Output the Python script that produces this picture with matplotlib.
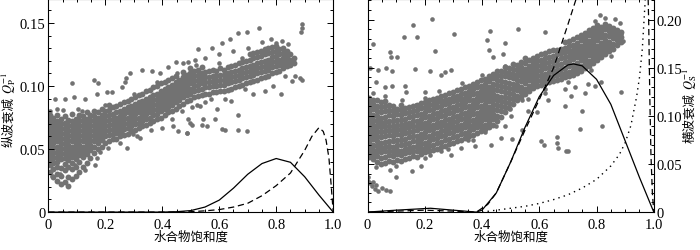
import matplotlib
matplotlib.use('Agg')
import matplotlib.pyplot as plt
from matplotlib.ticker import MultipleLocator
import numpy as np

plt.rcParams['font.family'] = ['Liberation Serif', 'Noto Sans CJK SC']
plt.rcParams['mathtext.fontset'] = 'stix'

# 纵波衰减 Qp^-1 : 密集带 (按列读取) + 离散点
qp_band_x = [0.005, 0.018, 0.031, 0.044, 0.057, 0.070, 0.083, 0.096, 0.109, 0.122,
             0.135, 0.148, 0.161, 0.174, 0.187, 0.200, 0.213, 0.226, 0.239, 0.252,
             0.265, 0.278, 0.291, 0.304, 0.317, 0.330, 0.343, 0.356, 0.369, 0.382,
             0.395, 0.408, 0.421, 0.434, 0.447, 0.460, 0.473, 0.486, 0.499, 0.512,
             0.525, 0.538, 0.551, 0.564, 0.577, 0.590, 0.603, 0.616, 0.629, 0.642,
             0.655, 0.668, 0.681, 0.694, 0.707, 0.720, 0.733, 0.746, 0.759, 0.772,
             0.785, 0.798, 0.811, 0.824, 0.837, 0.850, 0.863]
qp_band_y = [
    [0.032, 0.037, 0.041, 0.045, 0.049, 0.053, 0.057, 0.061, 0.065, 0.069, 0.073, 0.077],
    [0.028, 0.034, 0.039, 0.043, 0.047, 0.051, 0.055, 0.059, 0.063, 0.067, 0.071, 0.075],
    [0.025, 0.030, 0.036, 0.040, 0.044, 0.048, 0.052, 0.056, 0.060, 0.064, 0.068, 0.072, 0.077],
    [0.022, 0.029, 0.035, 0.042, 0.046, 0.050, 0.054, 0.058, 0.062, 0.066, 0.070, 0.074],
    [0.024, 0.033, 0.038, 0.043, 0.047, 0.051, 0.055, 0.059, 0.063, 0.067, 0.071, 0.076],
    [0.021, 0.028, 0.036, 0.041, 0.045, 0.049, 0.053, 0.057, 0.061, 0.065, 0.069, 0.073],
    [0.026, 0.034, 0.039, 0.044, 0.048, 0.052, 0.056, 0.060, 0.064, 0.068, 0.072, 0.078],
    [0.029, 0.036, 0.042, 0.046, 0.050, 0.054, 0.058, 0.062, 0.066, 0.070, 0.074],
    [0.032, 0.040, 0.045, 0.049, 0.053, 0.057, 0.061, 0.065, 0.069, 0.073, 0.077],
    [0.036, 0.044, 0.048, 0.052, 0.056, 0.060, 0.064, 0.068, 0.072, 0.076],
    [0.039, 0.046, 0.050, 0.054, 0.058, 0.062, 0.066, 0.070, 0.074, 0.079],
    [0.043, 0.049, 0.053, 0.057, 0.061, 0.065, 0.069, 0.073, 0.077],
    [0.047, 0.052, 0.056, 0.060, 0.064, 0.068, 0.072, 0.076, 0.080],
    [0.050, 0.055, 0.059, 0.063, 0.067, 0.071, 0.075, 0.079],
    [0.052, 0.057, 0.061, 0.065, 0.069, 0.073, 0.077, 0.082],
    [0.055, 0.060, 0.064, 0.068, 0.072, 0.076, 0.080],
    [0.056, 0.061, 0.065, 0.069, 0.073, 0.077, 0.081, 0.085],
    [0.058, 0.062, 0.066, 0.070, 0.074, 0.078, 0.083],
    [0.058, 0.063, 0.067, 0.071, 0.075, 0.079, 0.084],
    [0.060, 0.064, 0.068, 0.072, 0.076, 0.080, 0.086],
    [0.061, 0.066, 0.070, 0.074, 0.078, 0.082, 0.087],
    [0.062, 0.067, 0.071, 0.075, 0.079, 0.083, 0.088],
    [0.064, 0.068, 0.072, 0.076, 0.080, 0.084, 0.090],
    [0.065, 0.070, 0.074, 0.078, 0.082, 0.086, 0.091],
    [0.067, 0.071, 0.075, 0.079, 0.083, 0.087, 0.093],
    [0.068, 0.072, 0.076, 0.080, 0.084, 0.088, 0.094],
    [0.069, 0.074, 0.078, 0.082, 0.086, 0.090, 0.096],
    [0.071, 0.075, 0.079, 0.083, 0.087, 0.091, 0.097],
    [0.072, 0.077, 0.081, 0.085, 0.089, 0.093, 0.099],
    [0.074, 0.078, 0.082, 0.086, 0.090, 0.094, 0.100],
    [0.075, 0.080, 0.084, 0.088, 0.092, 0.096, 0.102],
    [0.077, 0.082, 0.086, 0.090, 0.094, 0.098, 0.103],
    [0.079, 0.083, 0.087, 0.091, 0.095, 0.099, 0.105],
    [0.080, 0.085, 0.089, 0.093, 0.097, 0.101, 0.106],
    [0.082, 0.087, 0.091, 0.095, 0.099, 0.103, 0.108],
    [0.084, 0.089, 0.093, 0.097, 0.101, 0.105],
    [0.086, 0.091, 0.095, 0.099, 0.103, 0.107, 0.111],
    [0.088, 0.093, 0.097, 0.101, 0.105, 0.109],
    [0.089, 0.094, 0.098, 0.102, 0.106, 0.110, 0.114],
    [0.091, 0.096, 0.100, 0.104, 0.108, 0.112],
    [0.092, 0.097, 0.101, 0.105, 0.109, 0.113],
    [0.093, 0.098, 0.102, 0.106, 0.110, 0.115],
    [0.094, 0.099, 0.103, 0.107, 0.111],
    [0.094, 0.099, 0.103, 0.107, 0.112],
    [0.095, 0.100, 0.104, 0.108, 0.113],
    [0.095, 0.100, 0.104, 0.108, 0.112],
    [0.096, 0.101, 0.105, 0.109, 0.114],
    [0.096, 0.101, 0.105, 0.109, 0.113],
    [0.097, 0.102, 0.106, 0.110, 0.115],
    [0.098, 0.103, 0.107, 0.111, 0.116],
    [0.099, 0.104, 0.108, 0.112, 0.117],
    [0.100, 0.105, 0.109, 0.113, 0.118],
    [0.101, 0.106, 0.110, 0.114, 0.119],
    [0.102, 0.107, 0.111, 0.115, 0.120],
    [0.103, 0.108, 0.112, 0.116, 0.121, 0.125],
    [0.104, 0.109, 0.113, 0.117, 0.122, 0.126],
    [0.105, 0.110, 0.114, 0.118, 0.123, 0.127],
    [0.106, 0.111, 0.115, 0.119, 0.124, 0.128],
    [0.107, 0.112, 0.116, 0.120, 0.125, 0.129],
    [0.108, 0.113, 0.117, 0.121, 0.126, 0.130],
    [0.110, 0.115, 0.119, 0.123, 0.127, 0.131],
    [0.111, 0.116, 0.120, 0.124, 0.128, 0.132],
    [0.112, 0.117, 0.121, 0.125, 0.129],
    [0.114, 0.118, 0.122, 0.126, 0.130],
    [0.116, 0.120, 0.124, 0.128],
    [0.117, 0.121, 0.125],
    [0.118, 0.122],
]
qp_x = [0.082, 0.024, 0.059, 0.090, 0.129, 0.160, 0.175, 0.105, 0.170, 0.205,
        0.222, 0.259, 0.269, 0.272, 0.286, 0.328, 0.363, 0.392, 0.421, 0.448,
        0.474, 0.491, 0.170, 0.164, 0.012, 0.041, 0.094, 0.129, 0.322, 0.299,
        0.258, 0.275, 0.439, 0.456, 0.433, 0.486, 0.497, 0.890, 0.892, 0.887,
        0.738, 0.697, 0.667, 0.638, 0.609, 0.574, 0.527, 0.515, 0.503, 0.533,
        0.544, 0.492, 0.503, 0.538, 0.556, 0.609, 0.620, 0.667, 0.667, 0.697,
        0.585, 0.591, 0.550, 0.521, 0.486, 0.817, 0.854, 0.883, 0.890, 0.860,
        0.866, 0.831, 0.550, 0.600, 0.650, 0.700, 0.750, 0.780, 0.800, 0.820,
        0.840, 0.760, 0.720, 0.640, 0.620, 0.570, 0.690, 0.790, 0.005, 0.030,
        0.180, 0.210, 0.250, 0.310, 0.360, 0.400, 0.470, 0.050, 0.120, 0.200,
        0.300, 0.380, 0.450, 0.520, 0.600, 0.680]
qp_y = [0.102, 0.090, 0.090, 0.091, 0.090, 0.105, 0.102, 0.082, 0.094, 0.095,
        0.095, 0.099, 0.103, 0.106, 0.110, 0.113, 0.112, 0.110, 0.115, 0.119,
        0.118, 0.119, 0.043, 0.037, 0.029, 0.030, 0.037, 0.033, 0.059, 0.062,
        0.063, 0.051, 0.068, 0.064, 0.074, 0.063, 0.071, 0.149, 0.146, 0.143,
        0.146, 0.143, 0.142, 0.137, 0.134, 0.130, 0.129, 0.121, 0.083, 0.084,
        0.074, 0.074, 0.069, 0.069, 0.068, 0.066, 0.065, 0.077, 0.065, 0.064,
        0.074, 0.082, 0.087, 0.085, 0.063, 0.094, 0.104, 0.106, 0.105, 0.119,
        0.108, 0.108, 0.122, 0.125, 0.128, 0.130, 0.135, 0.137, 0.134, 0.136,
        0.133, 0.096, 0.094, 0.088, 0.090, 0.090, 0.098, 0.100, 0.080, 0.082,
        0.048, 0.051, 0.055, 0.060, 0.065, 0.067, 0.080, 0.081, 0.080, 0.085,
        0.094, 0.103, 0.110, 0.117, 0.118, 0.122]

# 横波衰减 Qs^-1
qs_band_x = [0.005, 0.019, 0.033, 0.047, 0.061, 0.075, 0.089, 0.103, 0.117, 0.131,
             0.145, 0.159, 0.173, 0.187, 0.201, 0.215, 0.229, 0.243, 0.257, 0.271,
             0.285, 0.299, 0.313, 0.327, 0.341, 0.355, 0.369, 0.383, 0.397, 0.411,
             0.425, 0.439, 0.453, 0.467, 0.481, 0.495, 0.509, 0.523, 0.537, 0.551,
             0.565, 0.579, 0.593, 0.607, 0.621, 0.635, 0.649, 0.663, 0.677, 0.691,
             0.705, 0.719, 0.733, 0.747, 0.761, 0.775, 0.789, 0.803, 0.817, 0.831,
             0.845, 0.859, 0.873, 0.887]
qs_band_y = [
    [0.057, 0.062, 0.068, 0.073, 0.078, 0.083, 0.088, 0.094, 0.099, 0.104, 0.109, 0.114, 0.119],
    [0.055, 0.060, 0.065, 0.070, 0.076, 0.081, 0.086, 0.091, 0.096, 0.101, 0.107, 0.112, 0.117],
    [0.052, 0.058, 0.063, 0.069, 0.074, 0.079, 0.084, 0.089, 0.095, 0.100, 0.105, 0.110, 0.116],
    [0.050, 0.056, 0.062, 0.067, 0.072, 0.078, 0.083, 0.088, 0.093, 0.098, 0.104, 0.109, 0.114],
    [0.051, 0.057, 0.063, 0.068, 0.073, 0.079, 0.084, 0.089, 0.094, 0.099, 0.105, 0.110, 0.115],
    [0.053, 0.059, 0.064, 0.069, 0.074, 0.080, 0.085, 0.090, 0.095, 0.101, 0.106, 0.111],
    [0.052, 0.058, 0.063, 0.068, 0.074, 0.079, 0.084, 0.089, 0.095, 0.100, 0.105, 0.110],
    [0.054, 0.060, 0.065, 0.070, 0.075, 0.081, 0.086, 0.091, 0.096, 0.102, 0.107],
    [0.053, 0.059, 0.064, 0.070, 0.075, 0.080, 0.085, 0.091, 0.096, 0.101, 0.106, 0.111],
    [0.055, 0.061, 0.066, 0.071, 0.076, 0.082, 0.087, 0.092, 0.097, 0.103, 0.108],
    [0.056, 0.062, 0.067, 0.072, 0.078, 0.083, 0.088, 0.093, 0.099, 0.104, 0.109],
    [0.058, 0.063, 0.068, 0.074, 0.079, 0.084, 0.089, 0.095, 0.100, 0.105, 0.110],
    [0.057, 0.063, 0.069, 0.074, 0.079, 0.085, 0.090, 0.095, 0.101, 0.106, 0.111],
    [0.060, 0.066, 0.071, 0.076, 0.081, 0.087, 0.092, 0.097, 0.102, 0.108, 0.113],
    [0.062, 0.067, 0.072, 0.078, 0.083, 0.088, 0.093, 0.099, 0.104, 0.109, 0.114],
    [0.063, 0.069, 0.074, 0.079, 0.085, 0.090, 0.095, 0.100, 0.106, 0.111, 0.116],
    [0.065, 0.070, 0.076, 0.081, 0.086, 0.091, 0.097, 0.102, 0.107, 0.112, 0.118],
    [0.066, 0.072, 0.077, 0.082, 0.088, 0.093, 0.098, 0.103, 0.109, 0.114, 0.119],
    [0.068, 0.073, 0.079, 0.084, 0.089, 0.094, 0.100, 0.105, 0.110, 0.115, 0.121],
    [0.069, 0.075, 0.080, 0.085, 0.091, 0.096, 0.101, 0.106, 0.112, 0.117, 0.122],
    [0.071, 0.076, 0.082, 0.087, 0.092, 0.097, 0.103, 0.108, 0.113, 0.118, 0.124],
    [0.072, 0.078, 0.083, 0.088, 0.094, 0.099, 0.104, 0.109, 0.115, 0.120, 0.125],
    [0.074, 0.079, 0.085, 0.090, 0.095, 0.100, 0.106, 0.111, 0.116, 0.121, 0.127],
    [0.075, 0.081, 0.086, 0.091, 0.097, 0.102, 0.107, 0.112, 0.118, 0.123, 0.128],
    [0.077, 0.082, 0.088, 0.093, 0.098, 0.103, 0.109, 0.114, 0.119, 0.124, 0.130],
    [0.079, 0.084, 0.089, 0.095, 0.100, 0.105, 0.110, 0.116, 0.121, 0.126, 0.131],
    [0.080, 0.086, 0.091, 0.096, 0.102, 0.107, 0.112, 0.117, 0.123, 0.128, 0.133],
    [0.082, 0.088, 0.093, 0.098, 0.103, 0.109, 0.114, 0.119, 0.124, 0.130, 0.135],
    [0.084, 0.089, 0.095, 0.100, 0.105, 0.110, 0.116, 0.121, 0.126, 0.131, 0.137],
    [0.086, 0.091, 0.097, 0.102, 0.107, 0.112, 0.118, 0.123, 0.128, 0.133, 0.138],
    [0.088, 0.094, 0.099, 0.104, 0.109, 0.115, 0.120, 0.125, 0.130, 0.136, 0.141],
    [0.091, 0.097, 0.102, 0.107, 0.112, 0.118, 0.123, 0.128, 0.133, 0.139, 0.144],
    [0.095, 0.100, 0.106, 0.111, 0.116, 0.121, 0.127, 0.132, 0.137, 0.142, 0.147],
    [0.099, 0.105, 0.110, 0.115, 0.120, 0.126, 0.131, 0.136, 0.141, 0.147],
    [0.104, 0.109, 0.114, 0.120, 0.125, 0.130, 0.135, 0.141, 0.146, 0.151],
    [0.108, 0.113, 0.119, 0.124, 0.129, 0.134, 0.140, 0.145, 0.150],
    [0.112, 0.118, 0.123, 0.128, 0.133, 0.139, 0.144, 0.149, 0.154],
    [0.116, 0.121, 0.127, 0.132, 0.137, 0.142, 0.148, 0.153],
    [0.120, 0.125, 0.130, 0.136, 0.141, 0.146, 0.151, 0.156],
    [0.123, 0.128, 0.134, 0.139, 0.144, 0.149, 0.155, 0.160],
    [0.126, 0.131, 0.137, 0.142, 0.147, 0.152, 0.158],
    [0.129, 0.134, 0.139, 0.145, 0.150, 0.155, 0.160],
    [0.131, 0.136, 0.141, 0.147, 0.152, 0.157, 0.162],
    [0.132, 0.137, 0.143, 0.148, 0.153, 0.158, 0.164],
    [0.134, 0.139, 0.144, 0.150, 0.155, 0.160, 0.165],
    [0.135, 0.140, 0.146, 0.151, 0.156, 0.161, 0.167],
    [0.136, 0.141, 0.147, 0.152, 0.157, 0.162, 0.168],
    [0.137, 0.143, 0.148, 0.153, 0.158, 0.164, 0.169],
    [0.138, 0.144, 0.149, 0.154, 0.160, 0.165, 0.170],
    [0.140, 0.145, 0.150, 0.156, 0.161, 0.166, 0.171, 0.177],
    [0.141, 0.146, 0.152, 0.157, 0.162, 0.167, 0.173, 0.178],
    [0.143, 0.148, 0.153, 0.159, 0.164, 0.169, 0.174, 0.180],
    [0.145, 0.150, 0.155, 0.161, 0.166, 0.171, 0.176, 0.182],
    [0.147, 0.152, 0.158, 0.163, 0.168, 0.173, 0.179, 0.184],
    [0.150, 0.155, 0.160, 0.165, 0.171, 0.176, 0.181, 0.186],
    [0.152, 0.157, 0.163, 0.168, 0.173, 0.178, 0.184, 0.189],
    [0.155, 0.160, 0.165, 0.171, 0.176, 0.181, 0.186, 0.191],
    [0.158, 0.163, 0.168, 0.173, 0.179, 0.184, 0.189, 0.194],
    [0.161, 0.166, 0.171, 0.176, 0.182, 0.187, 0.192],
    [0.164, 0.169, 0.174, 0.179, 0.184, 0.190, 0.195],
    [0.167, 0.172, 0.177, 0.183, 0.188, 0.193],
    [0.170, 0.175, 0.181, 0.186, 0.191],
    [0.174, 0.179, 0.184, 0.189],
    [0.177, 0.182, 0.187],
]
qs_x = [0.226, 0.158, 0.127, 0.172, 0.302, 0.429, 0.418, 0.424, 0.437, 0.474,
        0.480, 0.235, 0.078, 0.081, 0.103, 0.020, 0.165, 0.218, 0.256, 0.272,
        0.292, 0.008, 0.037, 0.066, 0.084, 0.031, 0.060, 0.084, 0.131, 0.136,
        0.200, 0.171, 0.101, 0.078, 0.154, 0.188, 0.218, 0.256, 0.290, 0.328,
        0.369, 0.375, 0.433, 0.467, 0.410, 0.002, 0.014, 0.025, 0.037, 0.066,
        0.078, 0.000, 0.008, 0.020, 0.030, 0.050, 0.811, 0.829, 0.864, 0.881,
        0.887, 0.893, 0.876, 0.794, 0.480, 0.515, 0.538, 0.562, 0.591, 0.497,
        0.480, 0.503, 0.538, 0.606, 0.617, 0.663, 0.663, 0.667, 0.695, 0.701,
        0.742, 0.818, 0.887, 0.748, 0.690, 0.712, 0.724, 0.771, 0.794, 0.817,
        0.759, 0.689, 0.631, 0.619, 0.480, 0.619, 0.526,
        0.020, 0.060, 0.120, 0.200, 0.250, 0.330, 0.400, 0.030, 0.100, 0.200,
        0.280, 0.350, 0.450, 0.500, 0.560, 0.620, 0.700, 0.780, 0.850]
qs_y = [0.201, 0.194, 0.182, 0.182, 0.185, 0.188, 0.179, 0.168, 0.161, 0.164,
        0.152, 0.167, 0.166, 0.161, 0.161, 0.175, 0.149, 0.147, 0.143, 0.146,
        0.148, 0.150, 0.148, 0.150, 0.147, 0.135, 0.130, 0.131, 0.131, 0.125,
        0.125, 0.111, 0.037, 0.044, 0.043, 0.048, 0.059, 0.064, 0.059, 0.067,
        0.075, 0.069, 0.070, 0.077, 0.083, 0.032, 0.027, 0.024, 0.022, 0.023,
        0.022, 0.037, 0.030, 0.031, 0.028, 0.025, 0.205, 0.202, 0.201, 0.197,
        0.185, 0.178, 0.183, 0.199, 0.145, 0.130, 0.117, 0.105, 0.104, 0.107,
        0.090, 0.076, 0.085, 0.074, 0.070, 0.078, 0.072, 0.067, 0.064, 0.064,
        0.086, 0.090, 0.125, 0.105, 0.110, 0.121, 0.130, 0.133, 0.131, 0.135,
        0.124, 0.128, 0.117, 0.124, 0.176, 0.187, 0.190,
        0.124, 0.121, 0.116, 0.119, 0.126, 0.134, 0.142, 0.047, 0.048, 0.056,
        0.066, 0.075, 0.090, 0.100, 0.118, 0.128, 0.135, 0.148, 0.162]

# 理论曲线
qp_solid_x = [0, 0.40, 0.45, 0.50, 0.55, 0.60, 0.65, 0.70, 0.75, 0.80, 0.85, 0.90, 0.95, 1.00]
qp_solid_y = [0, 0, 0.0003, 0.0012, 0.004, 0.0095, 0.019, 0.030, 0.0385, 0.0425, 0.0395, 0.028, 0.0135, 0]
qp_dash_x = [0, 0.45, 0.50, 0.55, 0.60, 0.65, 0.70, 0.75, 0.80, 0.85, 0.90, 0.925, 0.95,
             0.965, 0.975, 0.985, 0.993, 1.00]
qp_dash_y = [0, 0, 0.0003, 0.001, 0.002, 0.004, 0.007, 0.013, 0.021, 0.031, 0.049, 0.060, 0.067,
             0.064, 0.057, 0.043, 0.021, 0]

qs_solid_x = [0, 0.10, 0.22, 0.30, 0.38, 0.40, 0.45, 0.50, 0.55, 0.60, 0.65, 0.70, 0.72,
              0.75, 0.80, 0.85, 0.90, 0.95, 1.00]
qs_solid_y = [0, 0.002, 0.004, 0.002, 0, 0.002, 0.020, 0.052, 0.088, 0.120, 0.142, 0.153, 0.154,
              0.152, 0.138, 0.112, 0.074, 0.036, 0]
qs_dash_x = [0, 0.10, 0.20, 0.30, 0.38, 0.42, 0.45, 0.50, 0.55, 0.60, 0.65, 0.70, 0.74,
             np.nan, 0.978, 0.982, 0.986, 0.990, 0.995, 1.00]
qs_dash_y = [0, 0.001, 0.002, 0.001, 0, 0.008, 0.020, 0.052, 0.085, 0.117, 0.150, 0.195, 0.232,
             np.nan, 0.25, 0.20, 0.12, 0.06, 0.02, 0]
qs_dot_x = [0.40, 0.45, 0.50, 0.55, 0.60, 0.65, 0.70, 0.75, 0.80, 0.85, 0.88, 0.90, 0.92,
            0.94, 0.95, 0.96, 0.97]
qs_dot_y = [0, 0.002, 0.004, 0.006, 0.009, 0.013, 0.018, 0.025, 0.034, 0.048, 0.060, 0.072,
            0.090, 0.120, 0.140, 0.170, 0.220]

x_ticks = [0, 0.2, 0.4, 0.6, 0.8, 1.0]
x_labels = ['0', '0.2', '0.4', '0.6', '0.8', '1.0']
qp_ticks = [0, 0.05, 0.10, 0.15]
qp_labels = ['0', '0.05', '0.10', '0.15']
qs_ticks = [0, 0.05, 0.10, 0.15, 0.20]
qs_labels = ['0', '0.05', '0.10', '0.15', '0.20']

pt_color = '#727272'


def flatten(bx, by):
    xs = [x for x, ys in zip(bx, by) for _ in ys]
    ys = [y for col in by for y in col]
    return xs, ys


def style(ax):
    ax.set_xlim(0, 1.0)
    ax.set_xticks(x_ticks)
    ax.set_xticklabels(x_labels)
    ax.xaxis.set_minor_locator(MultipleLocator(0.05))
    ax.yaxis.set_minor_locator(MultipleLocator(0.01))
    ax.tick_params(which='both', direction='in', top=True, bottom=True,
                   left=True, right=True, labelsize=10.5, width=0.7)
    ax.tick_params(which='major', length=4)
    ax.tick_params(which='minor', length=2)
    ax.tick_params(axis='x', pad=4)
    ax.tick_params(axis='y', pad=2)
    for sp in ax.spines.values():
        sp.set_linewidth(0.8)
    ax.set_xlabel('水合物饱和度', fontsize=9, labelpad=0)


def vlabel(x, y, cjk, math):
    # 中文部分与公式部分分开写, 在 y 处相接
    fig.text(x, y, cjk, rotation=90, rotation_mode='anchor', ha='right',
             va='baseline', fontsize=9, family='Noto Sans CJK SC')
    fig.text(x, y, ' ' + math, rotation=90, rotation_mode='anchor', ha='left',
             va='baseline', fontsize=9)


fig = plt.figure(figsize=(7, 2.51), dpi=100)
ax1 = fig.add_axes([0.069, 0.151, 0.407, 0.849])
ax2 = fig.add_axes([0.525, 0.151, 0.409, 0.849])

# 左图
bx, by = flatten(qp_band_x, qp_band_y)
ax1.scatter(bx, by, s=18, color=pt_color, linewidths=0)
ax1.scatter(qp_x, qp_y, s=11, color=pt_color, linewidths=0)
ax1.plot(qp_solid_x, qp_solid_y, 'k-', lw=0.9)
ax1.plot(qp_dash_x, qp_dash_y, 'k', lw=0.9, linestyle=(0, (5, 3)))
style(ax1)
ax1.set_ylim(0, 0.169)
ax1.set_yticks(qp_ticks)
ax1.set_yticklabels(qp_labels)
vlabel(0.017, 0.614, '纵波衰减', '$Q_{\\mathrm{P}}^{-1}$')

# 右图
bx, by = flatten(qs_band_x, qs_band_y)
ax2.scatter(bx, by, s=18, color=pt_color, linewidths=0)
ax2.scatter(qs_x, qs_y, s=11, color=pt_color, linewidths=0)
ax2.plot(qs_solid_x, qs_solid_y, 'k-', lw=0.9)
ax2.plot(qs_dash_x, qs_dash_y, 'k', lw=0.9, linestyle=(0, (5, 3)))
ax2.plot(qs_dot_x, qs_dot_y, 'k', lw=1.0, linestyle=(0, (1, 3)))
style(ax2)
ax2.set_ylim(0, 0.2215)
ax2.set_yticks(qs_ticks)
ax2.set_yticklabels(qs_labels)
ax2.tick_params(axis='y', labelleft=False, labelright=True)
vlabel(0.991, 0.629, '横波衰减', '$Q_{\\mathrm{S}}^{-1}$')

plt.savefig('out.png', dpi=100)
